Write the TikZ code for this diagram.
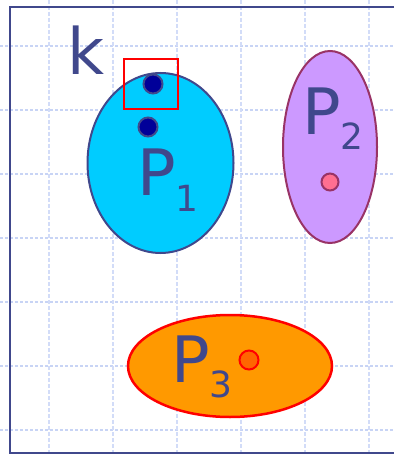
\documentclass[tikz,border=0pt]{standalone}
\usepackage{fontspec}
\setmainfont{DejaVu Sans}
\definecolor{ink}{RGB}{64,72,140}
\definecolor{gridc}{RGB}{200,212,245}
\definecolor{gridv}{RGB}{210,220,248}
\definecolor{pone}{HTML}{00CCFF}
\definecolor{ptwo}{HTML}{CC99FF}
\definecolor{ptwoline}{HTML}{993366}
\definecolor{pthree}{HTML}{FF9900}
\definecolor{navy}{HTML}{000099}
\definecolor{pinkdot}{HTML}{FF6F91}
\definecolor{orangedot}{HTML}{FF6600}
\tikzset{
  hgrid/.style={gridc, line width=2.5pt, dash pattern=on 3pt off 2pt},
  vgrid/.style={gridv, line width=2.5pt, dash pattern=on 4pt off 2pt},
  frameline/.style={ink, line width=2.6pt},
  bigtxt/.style={anchor=base west, inner sep=0pt, text=ink, font=\fontsize{64}{64}\selectfont},
  blob/.style={ellipse, draw, inner sep=0pt, line width=2pt},
  dotn/.style={circle, draw, inner sep=0pt, line width=2pt}
}
\usetikzlibrary{shapes.geometric}
\newcommand{\subdig}[1]{\raisebox{-15pt}{\fontsize{36}{36}\selectfont #1}}
\begin{document}
\begin{tikzpicture}[x=1pt,y=-1pt]
\useasboundingbox (0,0) rectangle (394,454);
% grid
\foreach \yy in {46,110,174,238,302,366,430}
  \draw[hgrid] (0,\yy) -- (394,\yy);
\foreach \xx in {49,113,177,241,305,369}
  \draw[vgrid] (\xx,0) -- (\xx,454);
% frame
\draw[frameline] (394,7) -- (10,7) -- (10,453) -- (394,453);
% label k
\node[bigtxt] (k) at (67,75) {k};
% P1
\node[blob, fill=pone, draw=ink, minimum width=146pt, minimum height=180pt] (P1) at (160.5,163) {};
\node[dotn, fill=navy, draw=ink, minimum size=19pt] (d1) at (153,84) {};
\node[dotn, fill=navy, draw=ink, minimum size=19pt] (d2) at (148,127) {};
\node[bigtxt] (L1) at (137,196) {P\subdig{1}};
\node[draw=red, line width=2pt, minimum width=54pt, minimum height=50pt, inner sep=0pt] (box) at (151,84) {};
% P2
\node[blob, fill=ptwo, draw=ptwoline, minimum width=94pt, minimum height=192pt] (P2) at (330,147) {};
\node[bigtxt] (L2) at (302,135) {P\subdig{2}};
\node[dotn, fill=pinkdot, draw=ptwoline, minimum size=17pt] (d3) at (330,182) {};
% P3
\node[blob, fill=pthree, draw=red, line width=2.5pt, minimum width=204pt, minimum height=102pt] (P3) at (230,366) {};
\node[bigtxt] (L3) at (171,382) {P\subdig{3}};
\node[dotn, fill=orangedot, draw=red, minimum size=19pt] (d4) at (249,360) {};
\end{tikzpicture}
\end{document}
